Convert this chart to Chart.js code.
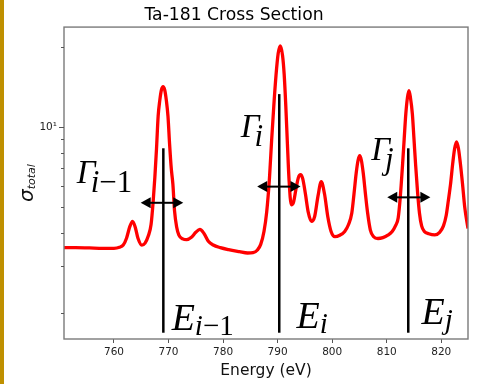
<!DOCTYPE html>
<html><head><meta charset="utf-8">
<script src="https://cdn.jsdelivr.net/npm/chart.js@4/dist/chart.umd.min.js"></script>
<style>
html,body{margin:0;padding:0;background:#fff;}
#wrap{position:relative;width:477px;height:384px;overflow:hidden;}
#bar{position:absolute;left:0;top:0;width:4px;height:384px;background:#bf9000;}
canvas{display:block;}
</style></head><body>
<div id="wrap"><canvas id="c" width="477" height="384" style="width:477px;height:384px"></canvas><div id="bar"></div></div>
<script>
// ---- data ----
const energy = [750.8,753.0,755.5,758.0,760.0,761.0,761.7,762.3,762.9,763.4,763.9,764.4,765.1,765.7,766.3,766.8,767.2,767.5,767.8,768.1,768.4,768.7,769.0,769.3,769.6,769.9,770.2,770.5,770.8,771.1,771.5,771.9,772.6,773.3,774.2,775.0,775.75,776.5,777.3,778.2,779.5,781.0,783.0,784.5,785.5,786.3,786.9,787.5,788.0,788.5,788.9,789.3,789.7,790.1,790.5,790.9,791.2,791.5,791.8,792.1,792.5,792.9,793.4,793.8,794.2,794.6,795.1,795.6,796.2,796.8,797.4,798.0,798.6,799.2,799.8,800.5,801.4,802.3,803.0,803.6,804.0,804.4,804.75,805.05,805.35,805.7,806.1,806.5,807.0,807.6,808.4,809.3,810.2,811.0,811.6,812.1,812.5,812.9,813.2,813.5,813.8,814.08,814.35,814.7,815.0,815.3,815.65,816.0,816.4,816.9,817.7,818.8,819.7,820.4,820.9,821.3,821.7,822.1,822.45,822.8,823.15,823.5,823.9,824.3,824.9];
const sigmaTotal = [3.52,3.52,3.51,3.50,3.50,3.53,3.60,3.82,4.22,4.42,4.20,3.82,3.60,3.66,3.90,4.30,5.3,6.5,8.3,11.0,12.6,13.8,14.2,13.8,12.6,11.0,8.6,7.0,6.1,4.85,4.20,3.92,3.80,3.77,3.85,4.02,4.12,3.98,3.72,3.60,3.52,3.46,3.40,3.36,3.37,3.45,3.62,4.05,4.80,6.4,8.9,12.0,15.6,18.9,20.2,18.6,15.8,12.0,8.6,6.3,5.10,5.20,5.90,6.45,6.62,6.40,5.60,4.80,4.42,4.62,5.50,6.23,5.60,4.60,4.05,3.87,3.92,4.05,4.30,4.75,5.6,6.7,7.5,7.80,7.5,6.7,5.6,4.75,4.10,3.87,3.81,3.84,3.92,4.05,4.25,4.55,5.5,7.2,9.0,11.2,12.9,13.7,12.9,11.2,9.0,7.2,5.7,4.75,4.25,4.05,3.97,3.93,4.02,4.25,4.65,5.3,6.1,7.3,8.3,8.8,8.3,7.3,6.1,5.0,4.15];

const resonanceE   = [769.05, 790.3, 813.95];
const lineLowSigma = [1.685, 1.685, 1.685];
const lineTopSigma = [8.32, 13.3, 8.32];

const arrowLeftE  = [764.9, 786.25, 810.1];
const arrowRightE = [772.7, 794.2, 818.0];
const arrowSigma  = [5.19, 5.97, 5.44];

const labelMain  = ['Γ','Γ','Γ','E','E','E'];
const labelSub   = ['i−1','i','j','i−1','i','j'];
const labelE     = [753.2, 783.26, 807.16, 770.57, 793.46, 816.36];
const labelSigma = [6.16, 9.21, 7.52, 1.725, 1.756, 1.817];

const xTicks = [760,770,780,790,800,810,820];
const yMajorTicks = [10];
const yMinorTicks = [2,3,4,5,6,7,8,9,20];
const yTickLabel = {10:'10¹'};

const xMin = 750.84, xMax = 824.9, yMin = 1.596, yMax = 23.76;

// ---- chart ----
Chart.defaults.font.family = '"DejaVu Sans", sans-serif';

const datasets = [];
resonanceE.forEach((e,i)=>{
  datasets.push({
    data:[{x:e,y:lineLowSigma[i]},{x:e,y:lineTopSigma[i]}],
    borderColor:'#000', borderWidth:2.5, pointRadius:0, tension:0, order:1
  });
});
datasets.push({
  data: energy.map((e,i)=>({x:e,y:sigmaTotal[i]})),
  borderColor:'#ff0000', borderWidth:3.3, pointRadius:0,
  cubicInterpolationMode:'monotone', fill:false, order:2
});

const overlay = {
  id:'overlay',
  afterDatasetsDraw(chart){
    const {ctx, scales:{x,y}} = chart;
    ctx.save();
    ctx.fillStyle='#000'; ctx.strokeStyle='#000'; ctx.lineWidth=2;
    for(let i=0;i<arrowSigma.length;i++){
      const x1=x.getPixelForValue(arrowLeftE[i]), x2=x.getPixelForValue(arrowRightE[i]);
      const py=y.getPixelForValue(arrowSigma[i]);
      const hl=10, hw=5.5;
      ctx.beginPath(); ctx.moveTo(x1+hl-1,py); ctx.lineTo(x2-hl+1,py); ctx.stroke();
      ctx.beginPath(); ctx.moveTo(x1,py); ctx.lineTo(x1+hl,py-hw); ctx.lineTo(x1+hl,py+hw); ctx.closePath(); ctx.fill();
      ctx.beginPath(); ctx.moveTo(x2,py); ctx.lineTo(x2-hl,py-hw); ctx.lineTo(x2-hl,py+hw); ctx.closePath(); ctx.fill();
    }
    // labels
    ctx.textBaseline='alphabetic'; ctx.textAlign='left';
    for(let i=0;i<labelMain.length;i++){
      const isG = labelMain[i]==='Γ';
      const size = isG?33:38, subSize = isG?31:29, drop = isG?9:5, kern = isG?-5:0;
      const px = x.getPixelForValue(labelE[i]), py = y.getPixelForValue(labelSigma[i]);
      ctx.font = `italic ${size}px "Liberation Serif"`;
      ctx.fillText(labelMain[i], px, py);
      let cx = px + ctx.measureText(labelMain[i]).width + kern;
      for(const ch of labelSub[i]){
        const it = /[a-z]/.test(ch);
        ctx.font = `${it?'italic ':''}${subSize}px "Liberation Serif"`;
        ctx.fillText(ch, cx, py+drop);
        cx += ctx.measureText(ch).width;
      }
    }
    ctx.restore();
  },
  afterDraw(chart){
    const {ctx, chartArea:a, scales:{y}} = chart;
    ctx.save();
    // spines
    ctx.strokeStyle='#7a7a7a'; ctx.lineWidth=1.4;
    ctx.strokeRect(a.left, a.top, a.right-a.left, a.bottom-a.top);
    // y ticks
    ctx.lineWidth=1; ctx.strokeStyle='#555';
    for(const v of yMajorTicks){ const p=Math.round(y.getPixelForValue(v))+0.5; ctx.beginPath(); ctx.moveTo(a.left-5,p); ctx.lineTo(a.left,p); ctx.stroke(); }
    for(const v of yMinorTicks){ const p=Math.round(y.getPixelForValue(v))+0.5; ctx.beginPath(); ctx.moveTo(a.left-3,p); ctx.lineTo(a.left,p); ctx.stroke(); }
    // y label  sigma_total
    ctx.fillStyle='#111';
    ctx.translate(33, (a.top+a.bottom)/2);
    ctx.rotate(-Math.PI/2);
    ctx.textBaseline='alphabetic'; ctx.textAlign='left';
    ctx.font='italic 20px "DejaVu Sans"';
    const w1 = ctx.measureText('σ').width;
    ctx.font='italic 11px "DejaVu Sans"';
    const w2 = ctx.measureText('total').width;
    const sx = -(w1+w2)/2;
    ctx.font='italic 20px "DejaVu Sans"';
    ctx.fillText('σ', sx, 0);
    ctx.font='italic 11px "DejaVu Sans"';
    ctx.fillText('total', sx+w1, 2);
    ctx.restore();
  }
};

new Chart(document.getElementById('c'), {
  type:'line',
  data:{datasets},
  plugins:[overlay],
  options:{
    responsive:false, animation:false, devicePixelRatio:1,
    layout:{padding:{top:0,right:9,left:0,bottom:0}},
    plugins:{
      legend:{display:false}, tooltip:{enabled:false},
      title:{display:true, text:'Ta-181 Cross Section', color:'#000',
        font:{size:17.2, weight:'normal', lineHeight:1.4}, padding:{top:3,bottom:0}}
    },
    scales:{
      x:{type:'linear', min:xMin, max:xMax,
        afterBuildTicks:s=>{ s.ticks = xTicks.map(v=>({value:v})); },
        afterFit:s=>{ s.height = 45; },
        ticks:{color:'#222', font:{size:10.5}, padding:3, autoSkip:false, maxRotation:0},
        grid:{drawOnChartArea:false, drawTicks:true, tickLength:4, color:'#555', lineWidth:1},
        border:{display:false},
        title:{display:true, text:'Energy (eV)', color:'#111', font:{size:15.5}, padding:{top:0,bottom:4}}
      },
      y:{type:'logarithmic', min:yMin, max:yMax,
        afterBuildTicks:s=>{ s.ticks = [...yMinorTicks, ...yMajorTicks].sort((p,q)=>p-q).map(v=>({value:v, major: yMajorTicks.includes(v)})); },
        afterFit:s=>{ s.width = 64; },
        ticks:{color:'#222', font:{size:10.5}, padding:7, autoSkip:false,
          callback:(v)=> yTickLabel[v] || ''},
        grid:{display:false, drawTicks:false},
        border:{display:false}
      }
    }
  }
});
</script>
</body></html>
